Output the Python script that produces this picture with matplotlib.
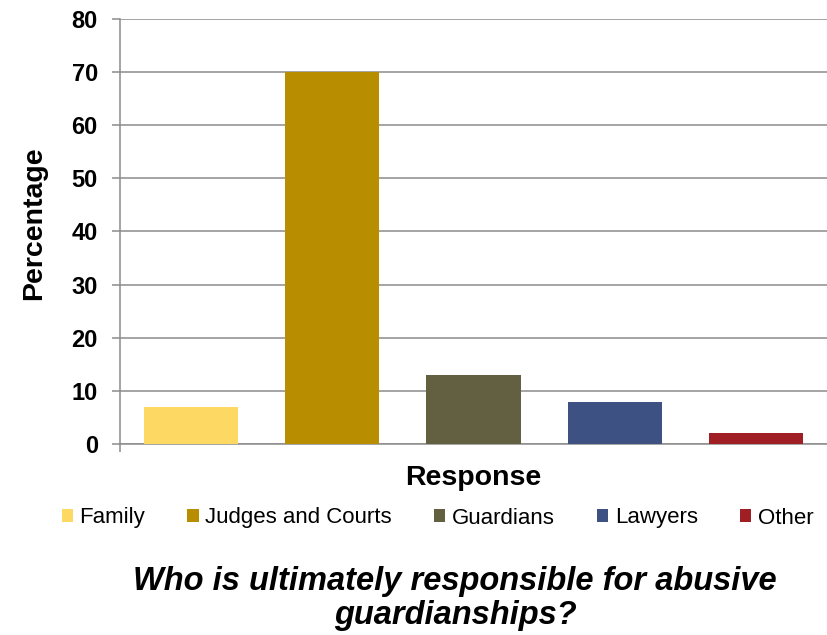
import matplotlib
matplotlib.use("Agg")
import matplotlib.pyplot as plt

categories = ["Family", "Judges and Courts", "Guardians", "Lawyers", "Other"]
values = [7, 70, 13, 8, 2]
colors = ["#FDD963", "#B88E00", "#636041", "#3D5182", "#A01F24"]
yticks = [0, 10, 20, 30, 40, 50, 60, 70, 80]

plt.rcParams["font.family"] = ["Liberation Sans", "DejaVu Sans"]

W, H = 827, 635
fig = plt.figure(figsize=(W / 100, H / 100), dpi=100)
ax = fig.add_axes([120 / W, (H - 444) / H, 707 / W, 425 / H])

grid_c = "#8C8C8C"
handles = []
for i, (cat, v, c) in enumerate(zip(categories, values, colors)):
    h = ax.bar(i, v, width=0.665, color=c, label=cat, zorder=3)
    handles.append(h)

ax.set_xlim(-0.5, 4.5)
ax.set_ylim(0, 80)
ax.set_yticks(yticks)
ax.set_yticklabels([str(t) for t in yticks], fontsize=17, fontweight="bold")
ax.yaxis.grid(True, color=grid_c, linewidth=1.1, zorder=0)
ax.set_axisbelow(True)
ax.tick_params(axis="y", length=5.5, width=1.1, color=grid_c, pad=10.5)
# single category-boundary tick at the left end of the x axis
ax.set_xticks([-0.5])
ax.set_xticklabels([""])
ax.tick_params(axis="x", length=6, width=1.1, color=grid_c, direction="out")

for s in ["top", "right"]:
    ax.spines[s].set_visible(False)
for s in ["left", "bottom"]:
    ax.spines[s].set_color(grid_c)
    ax.spines[s].set_linewidth(1.1)

fig.text(34 / W, 1 - 223 / H, "Percentage", rotation=90, ha="center",
         va="center", fontsize=20.5, fontweight="bold")

fig.text(473 / W, 1 - 478 / H, "Response", ha="center", va="center",
         fontsize=20.5, fontweight="bold")

fig.legend(handles=handles, labels=categories, loc="center",
           bbox_to_anchor=(437.5 / W, 1 - 518 / H), ncol=5, frameon=False,
           fontsize=16, handlelength=0.5, handleheight=0.5,
           handletextpad=0.3, columnspacing=1.9, borderpad=0)

title_kw = dict(ha="center", va="baseline", fontsize=23.5,
                fontweight="bold", style="italic")
fig.text(455 / W, 1 - 590 / H, "Who is ultimately responsible for abusive",
         **title_kw)
fig.text(455 / W, 1 - 624 / H, "guardianships?", **title_kw)

fig.savefig("out.png", dpi=100)
